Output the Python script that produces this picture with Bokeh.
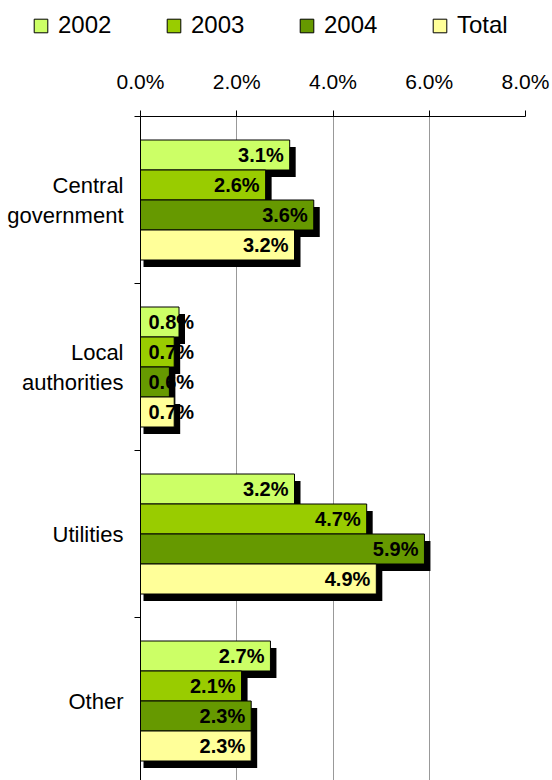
from bokeh.plotting import figure
from bokeh.layouts import column
from bokeh.models import (Range1d, FixedTicker, PrintfTickFormatter, Legend,
                          LegendItem)
from bokeh.embed import file_html
from bokeh.resources import INLINE
from bokeh.core.properties import value

# ---------------- data ----------------
categories = ["Central\ngovernment", "Local\nauthorities", "Utilities", "Other"]
series = ["2002", "2003", "2004", "Total"]
v2002 = [3.1, 0.8, 3.2, 2.7]
v2003 = [2.6, 0.7, 4.7, 2.1]
v2004 = [3.6, 0.6, 5.9, 2.3]
vtotal = [3.2, 0.7, 4.9, 2.3]
colors = ["#CCFF66", "#99CC00", "#669900", "#FFFF99"]
x_ticks = [0, 2, 4, 6, 8]
grid_ticks = [2, 4, 6, 8]

values = [v2002, v2003, v2004, vtotal]

# ---------------- layout constants ----------------
FONT = "Liberation Sans"
FIG_W = 552
LEG_H = 45
FIG_H = 780 - LEG_H
B_LEFT, B_RIGHT, B_TOP, B_BOTTOM = 140, 27, 116 - LEG_H, 0
FRAME_W = FIG_W - B_LEFT - B_RIGHT
FRAME_H = FIG_H - B_TOP - B_BOTTOM
BAND_PX = 167.0
PX_X = FRAME_W / 8.0
Y_END = FRAME_H / BAND_PX
BAR_H = 30.0 / BAND_PX
SH_DX = 6.0 / PX_X
SH_DL = 3.0 / PX_X
SH_DY = 7.0 / BAND_PX

# bar centres
ys = []
for i in range(len(series)):
    off = (i - 1.5) * BAR_H
    ys.append([c + 0.5 + off for c in range(len(categories))])

# ---------------- legend strip ----------------
# (its bars lie outside the strip's ranges: only their legend keys show)
lf = figure(width=FIG_W, height=LEG_H, x_range=Range1d(100, 101), y_range=Range1d(100, 101),
            x_axis_type=None, y_axis_type=None, output_backend="svg",
            toolbar_location=None, min_border=0)
lf.frame_align = False
lf.outline_line_color = None
lf.grid.visible = False
leg_renderers = [lf.hbar(y=ys[i], left=0, right=values[i], height=BAR_H,
                         fill_color=colors[i], line_color="black", line_width=1)
                 for i in range(len(series))]
legend = Legend(items=[LegendItem(label=s, renderers=[r]) for s, r in zip(series, leg_renderers)],
                orientation="horizontal", location=(32, 6),
                glyph_width=17, glyph_height=17, label_standoff=9,
                label_width=97, spacing=10, padding=0, margin=0,
                border_line_color=None, background_fill_alpha=0,
                label_text_font=FONT, label_text_font_size="24px",
                label_text_color="black")
lf.add_layout(legend)

# ---------------- main chart ----------------
p = figure(width=FIG_W, height=FIG_H,
           x_range=Range1d(0, 8), y_range=Range1d(Y_END, 0),
           x_axis_location="above",
           output_backend="svg", toolbar_location=None,
           min_border_left=B_LEFT, min_border_right=B_RIGHT,
           min_border_top=B_TOP, min_border_bottom=B_BOTTOM)
p.frame_align = False
p.outline_line_color = None

# x axis (top)
xa = p.xaxis[0]
xa.ticker = FixedTicker(ticks=x_ticks)
xa.formatter = PrintfTickFormatter(format="%.1f%%")
xa.major_tick_out = 6
xa.major_tick_in = 0
xa.minor_tick_out = 0
xa.minor_tick_in = 0
xa.major_label_standoff = 18
xa.major_label_text_font = FONT
xa.major_label_text_font_size = "21px"
xa.major_label_text_color = "black"
xa.axis_line_color = "black"
xa.major_tick_line_color = "black"

# y axis (left): labels at band centres, boundary ticks as minor ticks
ya = p.yaxis[0]
ya.ticker = FixedTicker(ticks=[c + 0.5 for c in range(len(categories))],
                        minor_ticks=list(range(len(categories) + 1)))
ya.major_label_overrides = {c + 0.5: cat for c, cat in enumerate(categories)}
ya.major_tick_out = 0
ya.major_tick_in = 0
ya.major_tick_line_color = None
ya.minor_tick_out = 6
ya.minor_tick_in = 0
ya.minor_tick_line_color = "black"
ya.major_label_standoff = 11
ya.major_label_text_font = FONT
ya.major_label_text_font_size = "22px"
ya.major_label_text_color = "black"
ya.axis_line_color = "black"

p.ygrid.visible = False
p.xgrid.ticker = FixedTicker(ticks=grid_ticks)
p.xgrid.grid_line_color = "#999999"
p.xgrid.grid_line_width = 1

# shadows first
for i in range(len(series)):
    p.hbar(y=[y + SH_DY for y in ys[i]], left=SH_DL,
           right=[v + SH_DX for v in values[i]], height=BAR_H,
           fill_color="black", line_color=None)

for i in range(len(series)):
    p.hbar(y=ys[i], left=0, right=values[i], height=BAR_H,
           fill_color=colors[i], line_color="black", line_width=1)

# value labels
LBL_PX = 20
AW = {"0": .556, "1": .556, "2": .556, "3": .556, "4": .556, "5": .556,
      "6": .556, "7": .556, "8": .556, "9": .556, ".": .278, "%": .889}
for i in range(len(series)):
    rx, ry, rt, lx, ly, lt = [], [], [], [], [], []
    for c, v in enumerate(values[i]):
        t = "%.1f%%" % v
        tw = sum(AW[ch] for ch in t) * LBL_PX
        if v * PX_X - 6 - tw < 8:
            lx.append(0); ly.append(ys[i][c]); lt.append(t)
        else:
            rx.append(v); ry.append(ys[i][c]); rt.append(t)
    if rt:
        p.text(x=rx, y=ry, text=rt, x_offset=-6, text_align="right",
               text_baseline="middle", text_font=value(FONT),
               text_font_style="bold", text_font_size="%dpx" % LBL_PX,
               text_color="black")
    if lt:
        p.text(x=lx, y=ly, text=lt, x_offset=8, text_align="left",
               text_baseline="middle", text_font=value(FONT),
               text_font_style="bold", text_font_size="%dpx" % LBL_PX,
               text_color="black")

layout = column(lf, p, spacing=0)
open("out.html", "w").write(file_html(layout, INLINE))
